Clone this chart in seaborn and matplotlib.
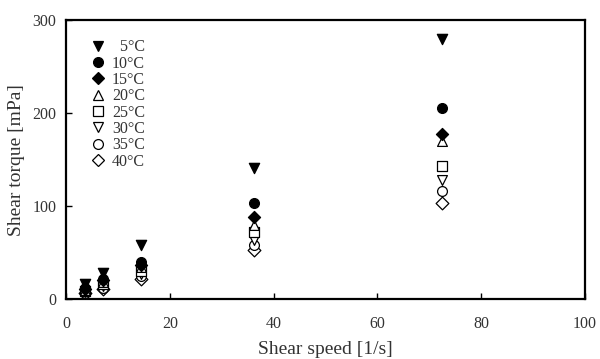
import matplotlib
matplotlib.use("Agg")
import matplotlib.pyplot as plt
import seaborn as sns
import pandas as pd
from matplotlib.lines import Line2D

shear_speed = [3.6, 7.2, 14.4, 36.2, 72.4]
temps = ["5°C", "10°C", "15°C", "20°C", "25°C", "30°C", "35°C", "40°C"]
t5 = [16, 28, 58, 141, 280]
t10 = [12, 22, 40, 103, 205]
t15 = [11, 20, 37, 88, 177]
t20 = [10, 18, 34, 80, 170]
t25 = [9, 16, 30, 72, 143]
t30 = [8, 14, 27, 63, 128]
t35 = [7, 12, 25, 58, 116]
t40 = [6, 11, 22, 53, 103]
series = [t5, t10, t15, t20, t25, t30, t35, t40]

markers = ["v", "o", "D", "^", "s", "v", "o", "D"]
filled = [True, True, True, False, False, False, False, False]
sizes = [55, 50, 38, 50, 55, 50, 50, 42]

sns.set_theme(style="white")
plt.rcParams["font.family"] = ["Liberation Serif", "DejaVu Serif"]

fig = plt.figure(figsize=(6.0, 3.59), dpi=100)
ax = fig.add_axes([0.11, 0.167, 0.865, 0.777])

rows = []
for t, vals in zip(temps, series):
    for x, y in zip(shear_speed, vals):
        rows.append({"speed": x, "torque": y, "temp": t})
df = pd.DataFrame(rows)

handles = []
for i, t in enumerate(temps):
    sub = df[df["temp"] == t]
    fc = "black" if filled[i] else "white"
    sns.scatterplot(data=sub, x="speed", y="torque", ax=ax, marker=markers[i],
                    s=sizes[i], facecolor=fc, edgecolor="black", linewidth=0.9,
                    legend=False, zorder=3 + (8 - i))
    handles.append(Line2D([], [], linestyle="none", marker=markers[i],
                          markersize=(sizes[i] ** 0.5), markerfacecolor=fc,
                          markeredgecolor="black", markeredgewidth=0.9))

labels = ["\u2007" + temps[0]] + temps[1:]
leg = ax.legend(handles, labels, loc="upper left", bbox_to_anchor=(0.03, 0.965),
                frameon=False, fontsize=11.5, handlelength=0.8, handletextpad=0.5,
                labelspacing=0.02, borderaxespad=0.2)
for txt in leg.get_texts():
    txt.set_color("#333333")

ax.set_xlim(0, 100)
ax.set_ylim(0, 300)
ax.set_xticks([0, 20, 40, 60, 80, 100])
ax.set_yticks([0, 100, 200, 300])
ax.tick_params(axis="both", direction="in", length=4, width=1, colors="black",
               labelsize=11.5, labelcolor="#333333")
ax.tick_params(axis="x", pad=12)
ax.tick_params(axis="y", pad=7)
ax.tick_params(bottom=True, left=True)
for sp in ax.spines.values():
    sp.set_visible(True)
    sp.set_color("black")
    sp.set_linewidth(1.6)

ax.set_xlabel("Shear speed [1/s]", fontsize=14, color="#333333", labelpad=7)
ax.set_ylabel("Shear torque [mPa]", fontsize=14, color="#333333", labelpad=5)

fig.savefig("out.png", dpi=100, facecolor="white")
